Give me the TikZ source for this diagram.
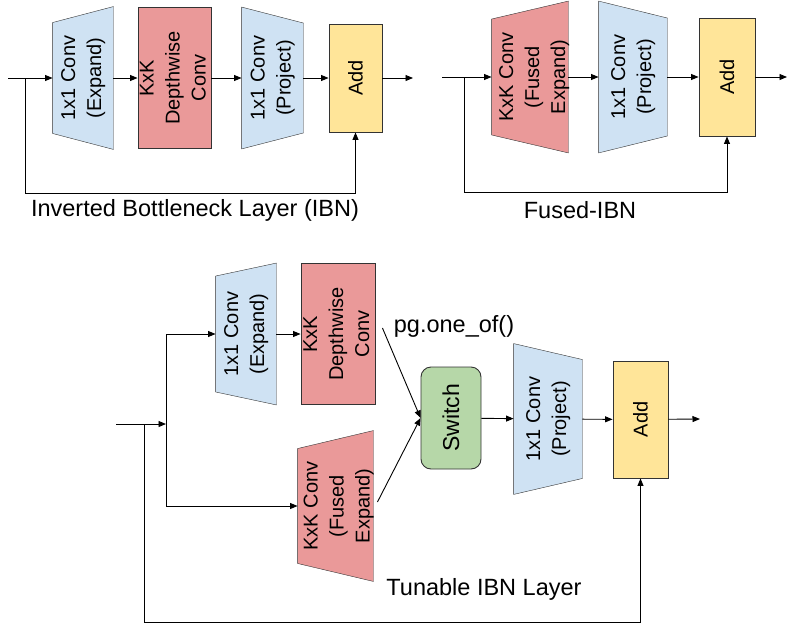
\documentclass[tikz,border=0pt]{standalone}
\usepackage{fontspec}
\setmainfont{Liberation Sans}
\usepackage{graphicx}
\usetikzlibrary{arrows.meta,backgrounds}

\definecolor{convblue}{HTML}{CFE2F3}
\definecolor{convred}{HTML}{EA9999}
\definecolor{addyellow}{HTML}{FFE599}
\definecolor{switchgreen}{HTML}{B6D7A8}
\definecolor{edgegray}{HTML}{333333}

%% rotated multi-line block text (no width of its own, so the node keeps its size)
\newcommand{\vtext}[2][0pt]{\makebox[0pt][c]{\hspace{#1}\rotatebox{90}{\begin{tabular}{@{}c@{}}#2\end{tabular}}}}
%% trapezoid behind a node: narrow side left (expand) / right (project)
\newcommand{\trapL}[3]{\filldraw[draw=edgegray,fill=#1] ([yshift=-#3]#2.north west) -- (#2.north east) -- (#2.south east) -- ([yshift=#3]#2.south west) -- cycle;}
\newcommand{\trapR}[3]{\filldraw[draw=edgegray,fill=#1] (#2.north west) -- ([yshift=-#3]#2.north east) -- ([yshift=#3]#2.south east) -- (#2.south west) -- cycle;}

\begin{document}
\begin{tikzpicture}[x=1pt, y=-1pt, line width=0.9pt,
    >={Triangle[length=7.5pt,width=6pt]},
    blk/.style={inner sep=0pt, font=\fontsize{20}{26}\selectfont},
    box/.style={blk, draw=edgegray, fill=#1},
    lbl/.style={font=\fontsize{23.5}{28}\selectfont}]

    \useasboundingbox (0,0) rectangle (788,627);

    %% Inverted Bottleneck Layer (IBN)
    \coordinate (in1) at (8,78);
    \coordinate (sp1) at (25,78);
    \coordinate (lo1) at (25,193);
    \coordinate (out1) at (413,78);
    \node[blk, minimum width=60pt, minimum height=142pt] (exp1) at (83,78) {\vtext{1x1 Conv\\(Expand)}};
    \node[box=convred, minimum width=73pt, minimum height=141pt] (dw1) at (174.5,78) {\vtext{KxK\\Depthwise\\Conv}};
    \node[blk, minimum width=61pt, minimum height=141pt] (prj1) at (272.5,78) {\vtext{1x1 Conv\\(Project)}};
    \node[box=addyellow, minimum width=53pt, minimum height=108pt] (add1) at (355.5,78) {\rotatebox{90}{Add}};
    \node[lbl] (lab1) at (195,210) {Inverted Bottleneck Layer (IBN)};

    \draw[->] (in1) -- (exp1);
    \draw[->] (exp1) -- (dw1);
    \draw[->] (dw1) -- (prj1);
    \draw[->] (prj1) -- (add1);
    \draw[->] (add1) -- (out1);
    \draw[->] (sp1) -- (lo1) -| (add1.south);

    %% Fused-IBN
    \coordinate (in2) at (442,77);
    \coordinate (sp2) at (464,77);
    \coordinate (lo2) at (464,192);
    \coordinate (out2) at (787,77);
    \node[blk, minimum width=76pt, minimum height=151pt] (fus1) at (530,77) {\vtext[8pt]{KxK Conv\\(Fused\\Expand)}};
    \node[blk, minimum width=68pt, minimum height=151pt] (prj2) at (633,77) {\vtext{1x1 Conv\\(Project)}};
    \node[box=addyellow, minimum width=56pt, minimum height=118pt] (add2) at (727,77) {\rotatebox{90}{Add}};
    \node[lbl] (lab2) at (580,210) {Fused-IBN};

    \draw[->] (in2) -- (fus1);
    \draw[->] (fus1) -- (prj2);
    \draw[->] (prj2) -- (add2);
    \draw[->] (add2) -- (out2);
    \draw[->] (sp2) -- (lo2) -| (add2.south);

    %% Tunable IBN Layer
    \coordinate (in3) at (116,424);
    \coordinate (sp3) at (144,424);
    \coordinate (br3) at (166,424);
    \coordinate (lo3) at (144,622);
    \coordinate (out3) at (700,419);
    \node[blk, minimum width=60pt, minimum height=141pt] (exp2) at (246,334) {\vtext{1x1 Conv\\(Expand)}};
    \node[box=convred, minimum width=74pt, minimum height=141pt] (dw2) at (338,334) {\vtext{KxK\\Depthwise\\Conv}};
    \node[blk, minimum width=75pt, minimum height=150pt] (fus2) at (335.5,506) {\vtext[6pt]{KxK Conv\\(Fused\\Expand)}};
    \node[box=switchgreen, rounded corners=10pt, minimum width=60pt, minimum height=102pt,
      font=\fontsize{23}{28}\selectfont] (switch) at (451,418) {\rotatebox{90}{Switch}};
    \node[blk, minimum width=68pt, minimum height=150pt] (prj3) at (548,419) {\vtext{1x1 Conv\\(Project)}};
    \node[box=addyellow, minimum width=55pt, minimum height=117pt] (add3) at (640.5,419.5) {\rotatebox{90}{Add}};
    \node[lbl] (pg) at (454,326) {pg.one\_of()};
    \node[lbl] (lab3) at (484,589) {Tunable IBN Layer};

    \draw[->] (in3) -- (br3);
    \draw[->] (br3) |- (exp2.west);
    \draw[->] (br3) |- (fus2.west);
    \draw[->] (exp2) -- (dw2);
    \draw[->] ([shift={(7,-6)}]dw2.east) -- (switch.west);
    \draw[->] ([shift={(4,-4)}]fus2.east) -- (switch.west);
    \draw[->] (switch) -- (prj3);
    \draw[->] (prj3) -- (add3);
    \draw[->] (add3) -- (out3);
    \draw[->] (sp3) -- (lo3) -| (add3.south);

    %% trapezoid outlines
    \begin{scope}[on background layer]
      \trapL{convblue}{exp1}{16pt}
      \trapR{convblue}{prj1}{16pt}
      \trapL{convred}{fus1}{18pt}
      \trapR{convblue}{prj2}{17pt}
      \trapL{convblue}{exp2}{13pt}
      \trapL{convred}{fus2}{18pt}
      \trapR{convblue}{prj3}{16pt}
    \end{scope}
\end{tikzpicture}
\end{document}
